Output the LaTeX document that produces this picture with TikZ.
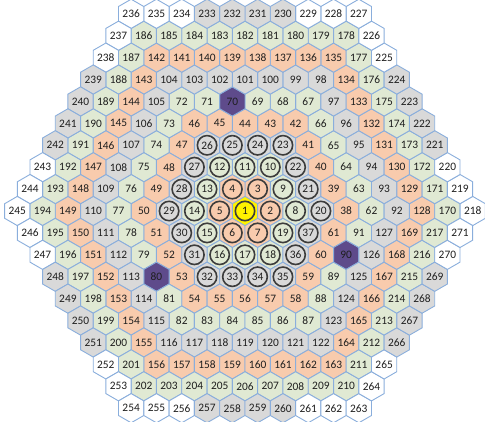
\documentclass[tikz,border=0pt]{standalone}
\usepackage{fontspec}
\setmainfont{Carlito}
\usetikzlibrary{shapes.geometric}
\definecolor{hexblue}{HTML}{8AAEDC}
\definecolor{peach}{HTML}{F8CBAD}
\definecolor{sage}{HTML}{E0E9D3}
\definecolor{lightgray}{HTML}{D9D9D9}
\definecolor{plum}{HTML}{5E4B8B}
\definecolor{ringgray}{HTML}{3C3C3C}
\definecolor{numgray}{HTML}{1E1E1E}

\begin{document}
\begin{tikzpicture}[
        x=1pt, y=1pt,
        hexcell/.style={regular polygon, regular polygon sides=6, shape border rotate=30, minimum size=29.2pt, inner sep=0pt, draw=hexblue, line width=0.9pt, text=numgray, font=\fontsize{11.4}{12}\selectfont},
        ring/.style={draw=ringgray, line width=1.6pt}
    ]
        \useasboundingbox (-245,-210) rectangle (240,211);
        \clip (-245,-210) rectangle (240,211);

        % Centre cell
        \node[hexcell, fill=yellow, draw=yellow] (h1) at (0,0) {1};
        \draw[ring] (h1.center) circle[radius=9.7];

        % Rings 1..9, numbered as a spiral
        \foreach \k in {1,...,9} {
            \pgfmathtruncatemacro\first{3*\k*(\k-1)+2}
            \pgfmathtruncatemacro\last{\first+6*\k-1}
            \foreach \n in {\first,...,\last} {
                \pgfmathtruncatemacro\i{\n-\first}
                \pgfmathtruncatemacro\s{int(\i/\k)}
                \pgfmathtruncatemacro\j{mod(\i,\k)}
                \pgfmathsetmacro\px{25.3*((\k-\j)*cos(60*\s)+\j*cos(60*\s+60))}
                \pgfmathsetmacro\py{25.3*((\k-\j)*sin(60*\s)+\j*sin(60*\s+60))}
                % Colours
                \pgfmathtruncatemacro\band{mod(\k-1,3)}
                \ifcase\band \def\cellfill{peach}\or \def\cellfill{sage}\or \def\cellfill{lightgray}\fi
                \ifnum\k=9 \def\cellfill{white}\ifnum\j>2 \ifnum\j<7 \def\cellfill{lightgray}\fi\fi\fi
                \ifnum\n=70 \def\cellfill{plum}\fi
                \ifnum\n=80 \def\cellfill{plum}\fi
                \ifnum\n=90 \def\cellfill{plum}\fi
                \node[hexcell, fill=\cellfill] (h\n) at (\px,\py) {\n};
                \ifnum\n<38 \draw[ring] (h\n.center) circle[radius=9.7];\fi
            }
        }
    \end{tikzpicture}
\end{document}
